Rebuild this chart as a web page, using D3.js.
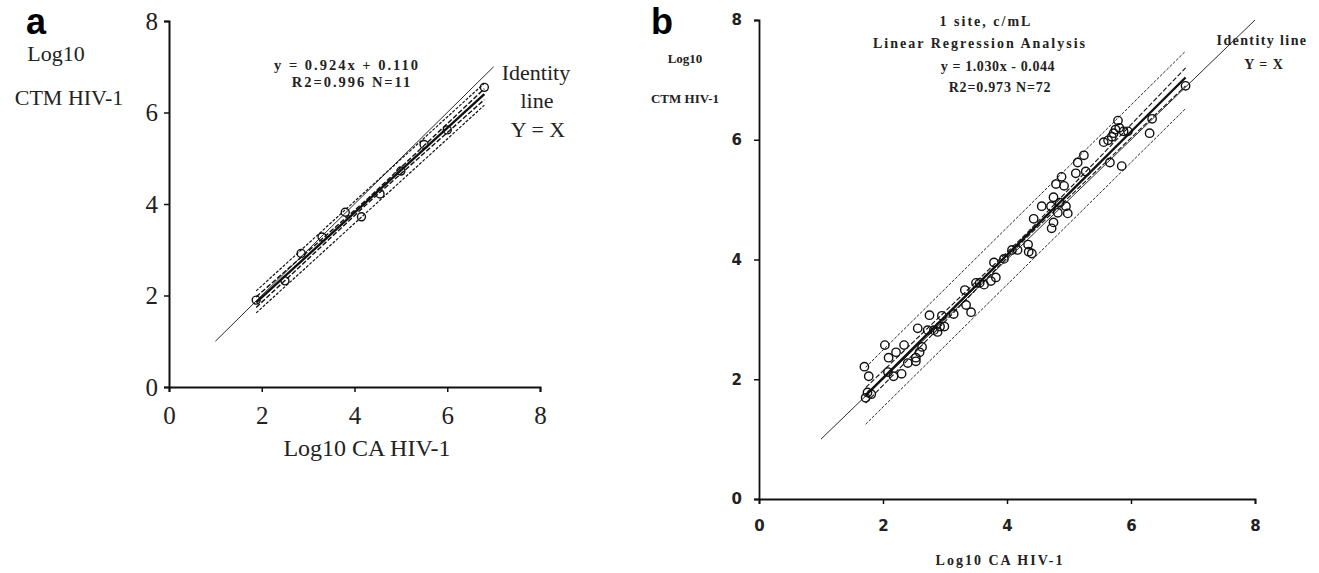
<!DOCTYPE html>
<html>
<head>
<meta charset="utf-8">
<script src="https://cdn.jsdelivr.net/npm/d3@7"></script>
<style>
  body { margin: 0; background: #fff; }
  svg { display: block; }
</style>
</head>
<body>
<svg id="chart" width="1319" height="573"></svg>
<script>
// ticks shared by both panels
const ticks = [0, 2, 4, 6, 8]

// panel a : 11 runs
const ptsA = [
  [1.88, 1.90], [2.50, 2.32], [2.85, 2.92], [3.30, 3.28], [3.80, 3.82],
  [4.15, 3.72], [4.55, 4.22], [5.00, 4.72], [5.50, 5.30], [6.00, 5.62], [6.80, 6.55]
]
const regA = [[1.88, 1.85], [6.80, 6.40]]
const ciUpA = [[1.88, 1.97], [4.3, 4.13], [6.80, 6.52]]
const ciLoA = [[1.88, 1.74], [4.3, 4.03], [6.80, 6.28]]
const piUpA = [[1.88, 2.10], [6.80, 6.64]]
const piLoA = [[1.88, 1.62], [6.80, 6.16]]
const idA = [[1, 1], [7, 7]]

// panel b : 72 samples
const ptsB = [
  [1.70, 2.21], [1.77, 2.05], [1.75, 1.78], [1.72, 1.69], [1.81, 1.75], [2.03, 2.57],
  [2.09, 2.36], [2.17, 2.05], [2.21, 2.45], [2.34, 2.57], [2.30, 2.09], [2.40, 2.27],
  [2.53, 2.36], [2.56, 2.85], [2.59, 2.45], [2.53, 2.30], [2.63, 2.54], [2.75, 3.07],
  [2.82, 2.82], [2.88, 2.79], [2.95, 3.06], [2.99, 2.88], [3.14, 3.09], [3.32, 3.49],
  [3.34, 3.24], [3.42, 3.12], [3.50, 3.61], [3.63, 3.58], [3.74, 3.64], [3.82, 3.70],
  [3.79, 3.95], [3.95, 4.01], [4.08, 4.16], [4.17, 4.16], [4.34, 4.25], [4.35, 4.13],
  [4.40, 4.10], [4.43, 4.68], [4.56, 4.89], [4.71, 4.89], [4.72, 4.52], [4.75, 4.62],
  [4.75, 5.04], [4.79, 5.26], [4.82, 4.78], [4.85, 4.95], [4.88, 5.38], [4.95, 4.89],
  [4.92, 5.23], [4.98, 4.77], [5.11, 5.44], [5.14, 5.62], [5.24, 5.74], [5.27, 5.47],
  [5.56, 5.96], [5.63, 5.99], [5.66, 5.62], [5.69, 6.05], [5.72, 6.11], [5.75, 6.17],
  [5.79, 6.32], [5.81, 6.20], [5.88, 6.14], [5.85, 5.56], [5.95, 6.14], [6.30, 6.11],
  [6.34, 6.35], [6.88, 6.90], [3.56, 3.61], [2.92, 2.88], [2.08, 2.12], [2.72, 2.82]
]
const regB = [[1.72, 1.73], [6.88, 7.04]]
const ciUpB = [[1.72, 1.86], [4.3, 4.42], [6.88, 7.20]]
const ciLoB = [[1.72, 1.60], [4.3, 4.35], [6.88, 6.90]]
const piUpB = [[1.72, 2.20], [6.88, 7.48]]
const piLoB = [[1.72, 1.25], [6.88, 6.52]]
const idB = [[1, 1], [8, 8]]

const svg = d3.select("#chart")

function panel(o) {
  const x = d3.scaleLinear().domain([0, 8]).range(o.xr)
  const y = d3.scaleLinear().domain([0, 8]).range(o.yr)
  const g = svg.append("g")
  const line = d3.line().x(d => x(d[0])).y(d => y(d[1]))

  // lineas de banda, identidad y regresion
  const lines = [
    { d: o.id, w: 0.9, dash: null },
    { d: o.piUp, w: o.bandW, dash: "3,1.5" },
    { d: o.piLo, w: o.bandW, dash: "3,1.5" },
    { d: o.ciUp, w: o.bandW + 0.2, dash: "5,2" },
    { d: o.ciLo, w: o.bandW + 0.2, dash: "5,2" },
    { d: o.reg, w: 2.4, dash: null }
  ]
  g.selectAll("path.l").data(lines).join("path")
    .attr("class", "l")
    .attr("d", d => line(d.d))
    .attr("fill", "none")
    .attr("stroke", "#111")
    .attr("stroke-width", d => d.w)
    .attr("stroke-dasharray", d => d.dash)

  g.selectAll("circle").data(o.pts).join("circle")
    .attr("cx", d => x(d[0]))
    .attr("cy", d => y(d[1]))
    .attr("r", o.r)
    .attr("fill", "none")
    .attr("stroke", "#111")
    .attr("stroke-width", 1.4)

  const ax = g.append("g")
    .attr("transform", `translate(0,${y(0)})`)
    .call(d3.axisBottom(x).tickValues(ticks).tickSizeOuter(0).tickSize(o.tick).tickPadding(o.xpad))
  const ay = g.append("g")
    .attr("transform", `translate(${x(0)},0)`)
    .call(d3.axisLeft(y).tickValues(ticks).tickSizeOuter(0).tickSize(o.tick).tickPadding(o.ypad))
  ;[ax, ay].forEach(a => {
    a.select(".domain").attr("stroke", "#111").attr("stroke-width", o.axw)
    a.selectAll(".tick line").attr("stroke", "#111").attr("stroke-width", 1.5)
    a.selectAll("text")
      .attr("font-family", o.tickFont)
      .attr("font-size", o.tickSize)
      .attr("font-weight", o.tickWeight)
      .attr("fill", "#222")
  })
  return { x, y, g }
}

const A = panel({
  xr: [169, 540], yr: [387, 21], pts: ptsA, reg: regA, ciUp: ciUpA, ciLo: ciLoA,
  piUp: piUpA, piLo: piLoA, id: idA, r: 4, tick: 5, xpad: 14, ypad: 6, axw: 2, bandW: 1.2,
  tickFont: "Liberation Serif", tickSize: 25, tickWeight: "normal"
})
const B = panel({
  xr: [759, 1255], yr: [499, 20], pts: ptsB, reg: regB, ciUp: ciUpB, ciLo: ciLoB,
  piUp: piUpB, piLo: piLoB, id: idB, r: 4.2, tick: 5, xpad: 16, ypad: 12, axw: 1.8, bandW: 0.9,
  tickFont: "DejaVu Sans", tickSize: 15, tickWeight: "bold"
})

function txt(x, y, s, size, opts = {}) {
  svg.append("text")
    .attr("x", x).attr("y", y)
    .attr("text-anchor", opts.anchor || "middle")
    .attr("dominant-baseline", opts.base || "middle")
    .attr("font-family", opts.family || "Liberation Serif")
    .attr("font-size", size)
    .attr("font-weight", opts.weight || "normal")
    .attr("letter-spacing", opts.ls || 0)
    .attr("fill", opts.fill || "#222")
    .text(s)
}

// panel a textos
txt(36, 34, "a", 36, { family: "Liberation Sans", weight: "bold", fill: "#000", base: "alphabetic" })
txt(56, 56, "Log10", 22)
txt(69, 100, "CTM HIV-1", 22)
txt(347, 67, "y = 0.924x + 0.110", 14.5, { weight: "bold", ls: 2 })
txt(352, 84, "R2=0.996   N=11", 14.5, { weight: "bold", ls: 2 })
txt(536, 75, "Identity", 22)
txt(537, 103, "line", 22)
txt(538, 132, "Y = X", 22)
txt(367, 450, "Log10 CA HIV-1", 24)

// panel b textos
txt(662, 34, "b", 36, { family: "Liberation Sans", weight: "bold", fill: "#000", base: "alphabetic" })
txt(685, 60, "Log10", 13, { weight: "bold" })
txt(685, 100, "CTM HIV-1", 13, { weight: "bold" })
txt(986, 23, "1 site, c/mL", 14, { weight: "bold", ls: 2 })
txt(980, 45, "Linear Regression Analysis", 14, { weight: "bold", ls: 2 })
txt(998, 68, "y =  1.030x - 0.044", 14, { weight: "bold", ls: 0.6 })
txt(1000, 89, "R2=0.973  N=72", 14, { weight: "bold", ls: 0.8 })
txt(1262, 42, "Identity line", 14, { weight: "bold", ls: 1.4 })
txt(1264, 66, "Y = X", 14, { weight: "bold", ls: 1 })
txt(1000, 562, "Log10 CA HIV-1", 14, { weight: "bold", ls: 2 })
</script>
</body>
</html>
